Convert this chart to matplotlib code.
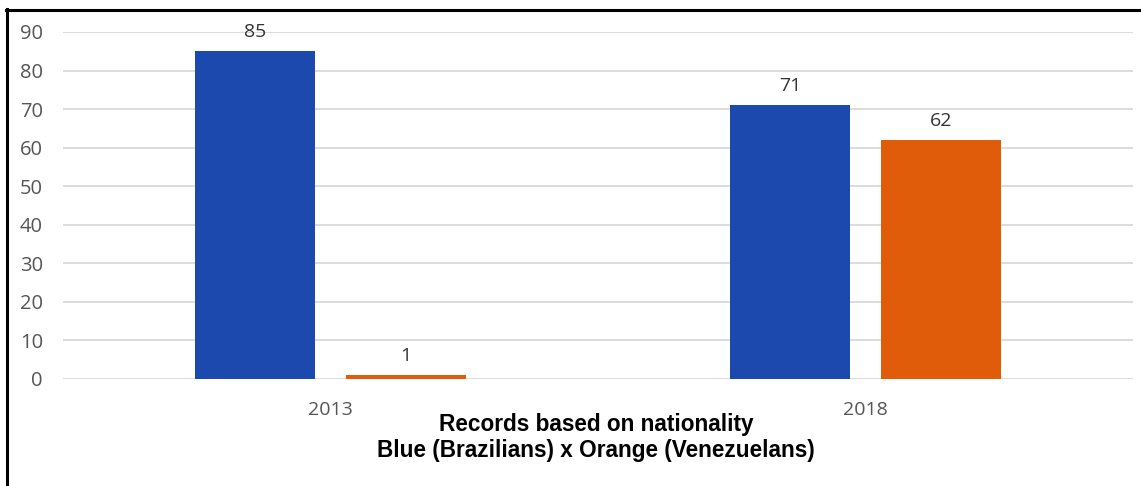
import matplotlib
matplotlib.use("Agg")
import matplotlib.pyplot as plt
from matplotlib.lines import Line2D
import numpy as np

years = ["2013", "2018"]
brazilians = [85, 71]
venezuelans = [1, 62]
yticks = [0, 10, 20, 30, 40, 50, 60, 70, 80, 90]
title_lines = ["Records based on nationality", "Blue (Brazilians) x Orange (Venezuelans)"]

BLUE = "#1c49ad"
ORANGE = "#e05b0a"
GRID = "#d6d6d6"
TICK = "#555555"

W, H = 1141, 486
fig = plt.figure(figsize=(W / 100, H / 100), dpi=100)
fig.patch.set_facecolor("white")

ax = fig.add_axes([63 / W, 1 - 379 / H, (1133 - 63) / W, (379 - 32) / H])
x = np.arange(len(years))
width = 0.224
offset = 0.1415

b1 = ax.bar(x - offset, brazilians, width, color=BLUE, zorder=3)
b2 = ax.bar(x + offset, venezuelans, width, color=ORANGE, zorder=3)

for bars, vals in ((b1, brazilians), (b2, venezuelans)):
    for rect, v in zip(bars, vals):
        ax.annotate(str(v), (rect.get_x() + rect.get_width() / 2, v),
                    xytext=(0, 14), textcoords="offset pixels",
                    ha="center", va="baseline", fontsize=14, color="#333333",
                    family="Open Sans", clip_on=False)

ax.set_xlim(-0.5, 1.5)
ax.set_ylim(0, 90)
ax.set_yticks(yticks)
ax.set_yticklabels([str(t) for t in yticks], family="Open Sans", fontsize=14.5, color=TICK)
ax.set_xticks(x)
ax.set_xticklabels(years, family="Open Sans", fontsize=14, color=TICK)
ax.tick_params(axis="y", length=0, pad=14.5)
ax.tick_params(axis="x", length=0, pad=16)
ax.yaxis.grid(True, color=GRID, linewidth=1.2, zorder=0)
ax.set_axisbelow(True)
for s in ax.spines.values():
    s.set_visible(False)

fig.text(596 / W, 1 - 430.5 / H, title_lines[0], ha="center", va="baseline",
         family="Liberation Sans", fontweight="bold", fontsize=16.3, color="black")
fig.text(596 / W, 1 - 457 / H, title_lines[1], ha="center", va="baseline",
         family="Liberation Sans", fontweight="bold", fontsize=16.3, color="black")

# frame lines along the top and left edges
fig.add_artist(Line2D([7 / W, 7 / W], [0, 1 - 9 / H], color="black", linewidth=2.2,
                      transform=fig.transFigure))
fig.add_artist(Line2D([6 / W, 1], [1 - 10 / H, 1 - 10 / H], color="black", linewidth=2.2,
                      transform=fig.transFigure))

fig.savefig("out.png", dpi=100, facecolor="white")
